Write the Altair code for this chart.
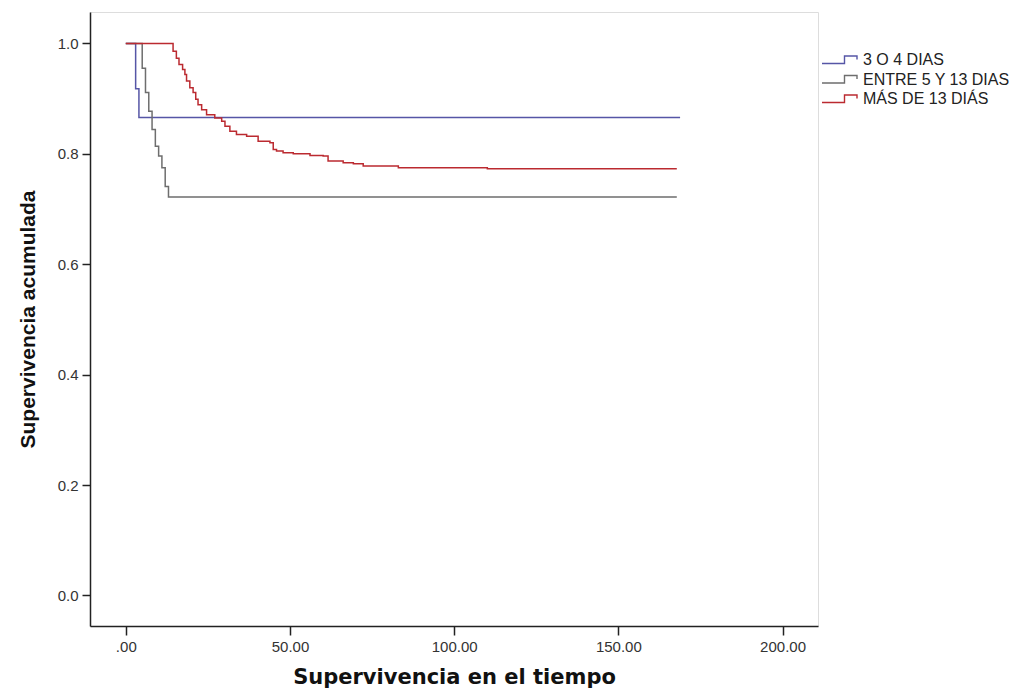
import altair as alt
import pandas as pd

# Kaplan-Meier step curves: event times and cumulative survival per group
groups = ["3 O 4 DIAS", "ENTRE 5 Y 13 DIAS", "MÁS DE 13 DIÁS"]
colors = ["#5656a6", "#6e6e6e", "#bb2a30"]

t_g1 = [0, 3, 4, 168.8]
s_g1 = [1.0, 0.918, 0.866, 0.866]

t_g2 = [0, 5, 6, 7, 8, 9, 10, 11, 12, 13, 167.8]
s_g2 = [1.0, 0.955, 0.911, 0.877, 0.844, 0.814, 0.796, 0.775, 0.741, 0.722, 0.722]

t_g3 = [0, 14.4, 15.4, 16.2, 17.3, 18.0, 18.5, 19.5, 20.5, 21.3, 22.0, 23.1,
        24.6, 27.1, 29.2, 30.2, 31.7, 33.7, 36.8, 40.3, 43.9, 44.9, 45.9,
        47.9, 51.0, 56.1, 60.1, 61.6, 66.2, 69.3, 72.3, 83.0, 110.1, 167.8]
s_g3 = [1.0, 0.986, 0.973, 0.962, 0.953, 0.944, 0.932, 0.920, 0.911, 0.899,
        0.889, 0.880, 0.871, 0.865, 0.859, 0.850, 0.841, 0.835, 0.832, 0.823,
        0.820, 0.808, 0.805, 0.802, 0.800, 0.797, 0.796, 0.787, 0.784, 0.782,
        0.778, 0.775, 0.773, 0.773]

x_ticks = [0, 50, 100, 150, 200]
y_ticks = [0.0, 0.2, 0.4, 0.6, 0.8, 1.0]

rows = []
for name, ts, ss in zip(groups, [t_g1, t_g2, t_g3], [s_g1, s_g2, s_g3]):
    for i, (t, s) in enumerate(zip(ts, ss)):
        rows.append({"grupo": name, "tiempo": t, "surv": s, "orden": i})
df = pd.DataFrame(rows)

# small step glyph for the legend (drawn wider than its nominal size)
step_path = "M -3.6 0.7 L 0.9 0.7 L 0.9 -0.8 L 3.4 -0.8 L 3.4 -0.1"

sans = "Liberation Sans, Arial, sans-serif"

chart = alt.Chart(df).mark_line(interpolate="step-after", strokeWidth=1.5).encode(
    x=alt.X("tiempo:Q",
            scale=alt.Scale(domain=[-10.9, 210.8], nice=False, zero=False),
            axis=alt.Axis(values=x_ticks, title="Supervivencia en el tiempo",
                          labelExpr="datum.value == 0 ? '.00' : format(datum.value, '.2f')",
                          grid=False, tickSize=9, tickColor="#222", domainColor="#222",
                          domainWidth=1.5, tickWidth=1.5,
                          labelFont=sans, labelFontSize=15, labelColor="#333",
                          labelPadding=4,
                          titleFont="DejaVu Sans, Verdana, sans-serif", titleFontSize=21,
                          titleFontWeight="bold", titleColor="#111", titlePadding=12)),
    y=alt.Y("surv:Q",
            scale=alt.Scale(domain=[-0.0553, 1.057], nice=False, zero=False),
            axis=alt.Axis(values=y_ticks, format=".1f", title="Supervivencia acumulada",
                          grid=False, tickSize=8, tickColor="#222", domainColor="#222",
                          domainWidth=1.5, tickWidth=1.5,
                          labelFont=sans, labelFontSize=15, labelColor="#333",
                          labelPadding=4,
                          titleFont=sans, titleFontSize=21,
                          titleFontWeight="bold", titleColor="#111", titlePadding=19)),
    color=alt.Color("grupo:N",
                    scale=alt.Scale(domain=groups, range=colors),
                    legend=alt.Legend(title=None, orient="none", legendX=742, legendY=40,
                                      symbolType=step_path, symbolSize=100,
                                      symbolStrokeWidth=1.4, symbolFillColor="transparent",
                                      labelFont=sans, labelFontSize=16,
                                      labelColor="#222", labelOffset=15, rowPadding=3.5)),
    order="orden:Q",
).properties(
    width=728,
    height=614,
    autosize=alt.AutoSizeParams(type="none"),
    padding={"left": 90, "top": 12, "right": 214, "bottom": 67},
).configure_view(
    stroke="#8a8a8a", strokeWidth=1.5
).configure(background="white")

chart.save("out.html", embed_options={"renderer": "svg", "actions": False})
